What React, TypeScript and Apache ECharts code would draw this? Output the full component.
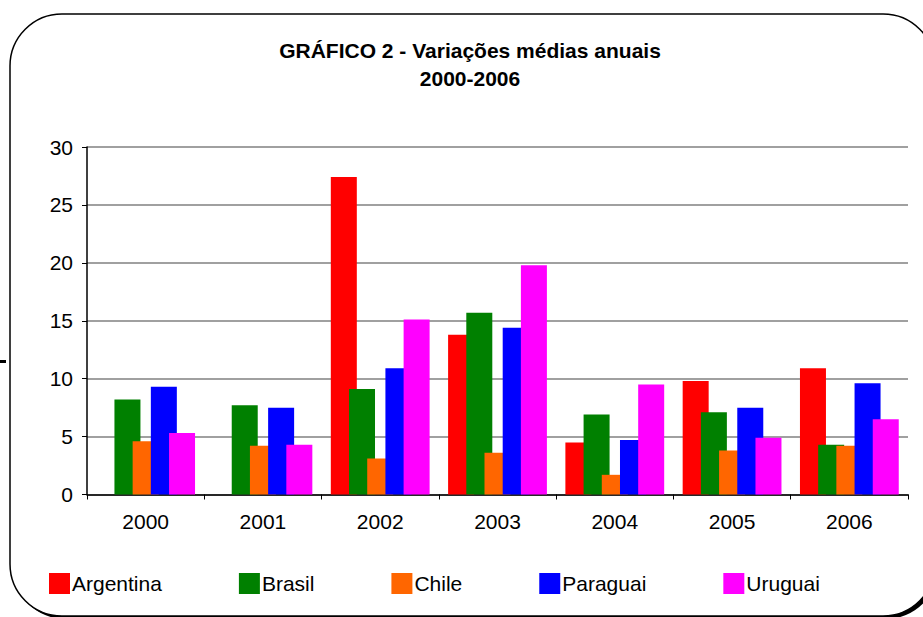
import React, { useEffect, useRef } from "react";
import * as echarts from "echarts";

const years = ["2000", "2001", "2002", "2003", "2004", "2005", "2006"];
const argentina = [null, null, 27.4, 13.8, 4.5, 9.8, 10.9];
const brasil = [8.2, 7.7, 9.1, 15.7, 6.9, 7.1, 4.3];
const chile = [4.6, 4.2, 3.1, 3.6, 1.7, 3.8, 4.2];
const paraguai = [9.3, 7.5, 10.9, 14.4, 4.7, 7.5, 9.6];
const uruguai = [5.3, 4.3, 15.1, 19.8, 9.5, 4.9, 6.5];
const seriesNames = ["Argentina", "Brasil", "Chile", "Paraguai", "Uruguai"];
const seriesColors = ["#FF0000", "#008000", "#FF6600", "#0000FF", "#FF00FF"];

const FONT = "'Liberation Sans', Arial, sans-serif";

export default function App() {
  const ref = useRef<HTMLDivElement>(null);
  useEffect(() => {
    document.body.style.margin = "0";
    const chart = echarts.init(ref.current!, null, { renderer: "svg" });
    const data = [argentina, brasil, chile, paraguai, uruguai];
    chart.setOption({
      animation: false,
      backgroundColor: "#ffffff",
      textStyle: { fontFamily: FONT },
      graphic: [
        { type: "rect", z: -10, shape: { x: 0, y: 360, width: 6, height: 3 }, style: { fill: "#000" } },
        { type: "rect", z: -10, shape: { x: 13, y: 17, width: 925, height: 602, r: 52 }, style: { fill: "#000" } },
        { type: "rect", z: -9, shape: { x: 10, y: 14, width: 925, height: 602, r: 52 }, style: { fill: "#fff", stroke: "#000", lineWidth: 1.5 } },
        {
          type: "text", z: 5, x: 470, y: 50,
          style: { text: "GRÁFICO 2 - Variações médias anuais", fontFamily: FONT, fontWeight: "bold", fontSize: 21, fill: "#000", align: "center", verticalAlign: "middle" },
        },
        {
          type: "text", z: 5, x: 470, y: 78,
          style: { text: "2000-2006", fontFamily: FONT, fontWeight: "bold", fontSize: 21, fill: "#000", align: "center", verticalAlign: "middle" },
        },
      ],
      legend: {
        left: 49,
        top: 573,
        itemWidth: 21,
        itemHeight: 21,
        itemGap: 77,
        icon: "rect",
        padding: 0,
        textStyle: { fontSize: 21, color: "#000", fontFamily: FONT, padding: [0, 0, 0, -3] },
        data: seriesNames,
      },
      grid: { left: 87, top: 147, right: 15, bottom: 617 - 494.5, containLabel: false },
      xAxis: {
        type: "category",
        data: years,
        axisLine: { lineStyle: { color: "#000", width: 1.5 } },
        axisTick: { show: true, length: 5, lineStyle: { color: "#000" } },
        axisLabel: { fontSize: 21, color: "#000", margin: 16, fontFamily: FONT },
      },
      yAxis: {
        type: "value",
        min: 0,
        max: 30,
        interval: 5,
        axisLine: { show: true, lineStyle: { color: "#000", width: 1.5 } },
        axisTick: { show: true, length: 5, lineStyle: { color: "#000" } },
        axisLabel: { fontSize: 21, color: "#000", margin: 14, fontFamily: FONT },
        splitLine: { lineStyle: { color: "#808080", width: 1.5 } },
      },
      series: seriesNames.map((name, i) => ({
        name,
        type: "bar",
        data: data[i],
        barWidth: 26,
        barGap: "-30%",
        itemStyle: { color: seriesColors[i] },
      })),
    });
    return () => chart.dispose();
  }, []);
  return <div ref={ref} style={{ width: 923, height: 617 }} />;
}
